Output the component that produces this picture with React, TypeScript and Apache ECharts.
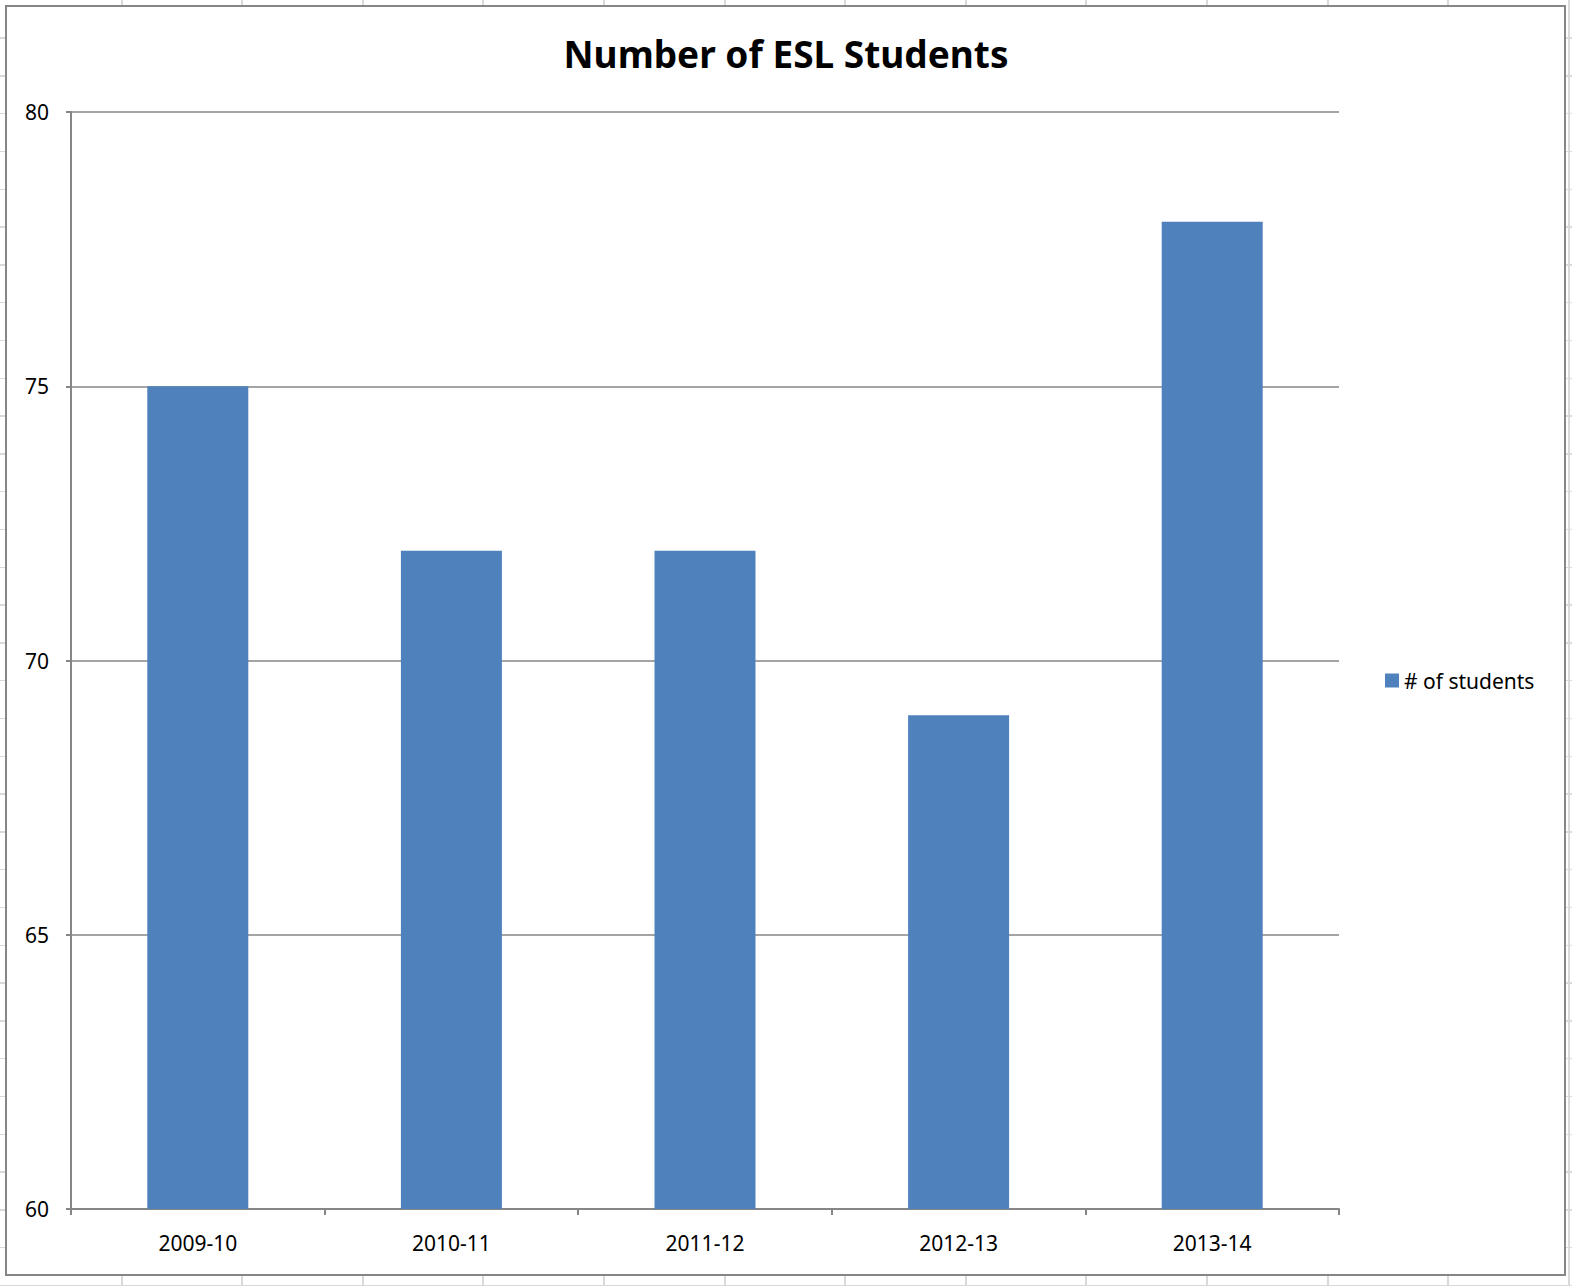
import React, { useEffect, useRef } from "react";
import * as echarts from "echarts";

const categories = ["2009-10", "2010-11", "2011-12", "2012-13", "2013-14"];
const students = [75, 72, 72, 69, 78];
const seriesName = "# of students";
const titleText = "Number of ESL Students";

const FONT = "Noto Sans";

export default function App() {
  const ref = useRef<HTMLDivElement>(null);
  useEffect(() => {
    document.body.style.margin = "0";
    if (!ref.current) return;
    const chart = echarts.init(ref.current, null, { renderer: "svg" });
    chart.setOption({
      animation: false,
      title: {
        text: titleText,
        left: 781,
        textAlign: "center",
        top: 30,
        textStyle: { fontFamily: FONT, fontSize: 37, fontWeight: "bold", color: "#000" },
      },
      legend: {
        left: 1380,
        top: 665,
        icon: "rect",
        itemWidth: 14,
        itemHeight: 14,
        itemGap: 6,
        textStyle: { fontFamily: FONT, fontSize: 21, color: "#000", padding: [0, 0, 0, 0] },
        data: [seriesName],
      },
      grid: { left: 71, top: 112, width: 1268, height: 1097, containLabel: false },
      xAxis: {
        type: "category",
        data: categories,
        axisLine: { show: true, lineStyle: { color: "#868686", width: 2 } },
        axisTick: { show: true, length: 6, alignWithLabel: false, lineStyle: { color: "#868686", width: 2 } },
        axisLabel: { margin: 23, fontFamily: FONT, fontSize: 21, color: "#000" },
        splitLine: { show: false },
      },
      yAxis: {
        type: "value",
        min: 60,
        max: 80,
        interval: 5,
        axisLine: { show: true, lineStyle: { color: "#868686", width: 2 } },
        axisTick: { show: true, length: 5, lineStyle: { color: "#868686", width: 2 } },
        axisLabel: { margin: 22, fontFamily: FONT, fontSize: 21, color: "#000" },
        splitLine: { show: true, lineStyle: { color: "#868686", width: 1.5 } },
      },
      series: [
        {
          name: seriesName,
          type: "bar",
          data: students,
          barWidth: 101,
          itemStyle: { color: "#4F81BD" },
        },
      ],
    });
    return () => chart.dispose();
  }, []);

  const bg =
    "repeating-linear-gradient(to right, transparent 0px, transparent 118.6px, #d9d9d9 118.6px, #d9d9d9 120.6px)," +
    "repeating-linear-gradient(to bottom, transparent 0px, transparent 36.3px, #d9d9d9 36.3px, #d9d9d9 37.8px)";

  return (
    <div style={{ position: "relative", width: 1572, height: 1286, background: "#fff", overflow: "hidden" }}>
      <div
        style={{
          position: "absolute",
          left: 0,
          top: 0,
          width: 1572,
          height: 1286,
          backgroundImage: bg,
          backgroundPosition: "2px 1px",
        }}
      />
      <div
        style={{
          position: "absolute",
          left: 5,
          top: 5,
          width: 1561,
          height: 1271,
          background: "#fff",
          border: "2px solid #868686",
          boxSizing: "border-box",
        }}
      />
      <div ref={ref} style={{ position: "absolute", left: 0, top: 0, width: 1572, height: 1286 }} />
    </div>
  );
}
